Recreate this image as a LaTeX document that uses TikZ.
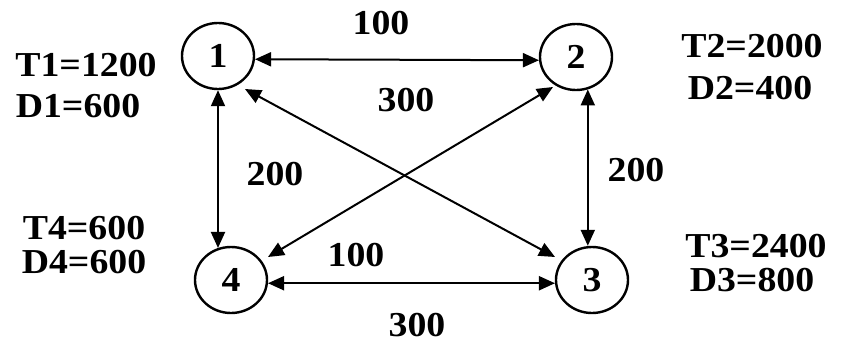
\documentclass[tikz,border=0pt]{standalone}
\usepackage{fontspec}
\setmainfont{Liberation Serif}
\newfontfamily\labfont[FakeStretch=1.08]{Liberation Serif}
\usetikzlibrary{arrows.meta,shapes.geometric,calc}
\begin{document}
\begin{tikzpicture}[x=1pt,y=-1pt,
  vert/.style={ellipse,draw,line width=2.4pt,minimum width=72pt,minimum height=66pt,inner sep=0pt,font=\labfont\fontsize{35}{35}\bfseries\selectfont},
  lab/.style={inner sep=0pt,anchor=center,font=\labfont\fontsize{35}{40}\bfseries\selectfont},
  link/.style={line width=2pt,{Triangle[length=16pt,width=14pt]}-{Triangle[length=16pt,width=14pt]}}]
\useasboundingbox[fill=white] (0,0) rectangle (855,343);
\node[vert] (n1) at (218,56) {1};
\node[vert] (n2) at (576,57) {2};
\node[vert] (n4) at (231,280) {4};
\node[vert] (n3) at (592,280) {3};
\draw[link] (n1.-5) -- (n2.185);
\draw[link] (n4.-5) -- (n3.185);
\draw[link] (n1.south) -- (n1.south |- n4.112);
\draw[link] (n2.-70) -- (n2.-70 |- n3.north);
\draw[link] ($(n1)+(27,33)$) -- ($(n3)+(-37,-23)$);
\draw[link] ($(n2)+(-23,30)$) -- ($(n4)+(37,-23)$);
\node[lab] (w12) at (381,23) {100};
\node[lab] (w13) at (406,100) {300};
\node[lab] (w14) at (275,174) {200};
\node[lab] (w23) at (636,170) {200};
\node[lab] (w43) at (356,255) {100};
\node[lab] (w24) at (417,325) {300};
\node[lab] (t1) at (86,65) {T1=1200};
\node[lab] (d1) at (78,106) {D1=600};
\node[lab] (t2) at (752,46) {T2=2000};
\node[lab] (d2) at (750,88) {D2=400};
\node[lab] (t4) at (84,228) {T4=600};
\node[lab] (d4) at (84,262) {D4=600};
\node[lab] (t3) at (756,246) {T3=2400};
\node[lab] (d3) at (752,280) {D3=800};
\end{tikzpicture}
\end{document}
